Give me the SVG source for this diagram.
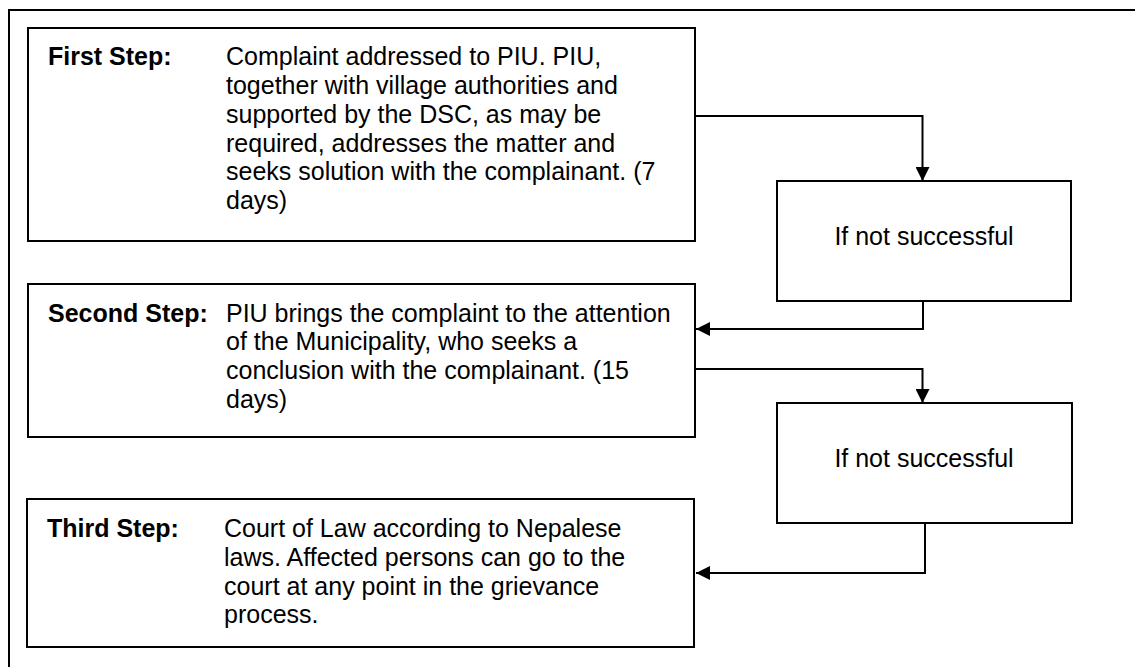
<svg xmlns="http://www.w3.org/2000/svg" width="1135" height="667" viewBox="0 0 1135 667">
<style>
.box{fill:#fff;stroke:#000;stroke-width:2}
.frame{fill:none;stroke:#000;stroke-width:2}
.t{font-family:"Liberation Sans",Arial,sans-serif;font-size:25px;fill:#000}
.b{font-weight:bold}
.c{text-anchor:middle}
.conn{fill:none;stroke:#000;stroke-width:2}
</style>
<defs>
<marker id="ah" markerWidth="14" markerHeight="14" refX="14" refY="7" orient="auto" markerUnits="userSpaceOnUse" viewBox="0 0 14 14"><path d="M0,0 L14,7 L0,14 Z" fill="#000"/></marker>
</defs>
<rect width="1135" height="667" fill="#fff"/>
<rect class="frame" x="9" y="10" width="1200" height="700"/>
<g id="step1">
<rect class="box" x="28" y="28" width="667" height="213"/>
<text class="t b" x="48" y="65">First Step:</text>
<text class="t" x="226" y="65">Complaint addressed to PIU. PIU,</text>
<text class="t" x="226" y="94">together with village authorities and</text>
<text class="t" x="226" y="123">supported by the DSC, as may be</text>
<text class="t" x="226" y="152">required, addresses the matter and</text>
<text class="t" x="226" y="180">seeks solution with the complainant. (7</text>
<text class="t" x="226" y="209">days)</text>
</g>
<g id="decision1">
<rect class="box" x="777" y="181" width="294" height="120"/>
<text class="t c" x="924" y="245">If not successful</text>
</g>
<g id="step2">
<rect class="box" x="28" y="284" width="667" height="153"/>
<text class="t b" x="48" y="322">Second Step:</text>
<text class="t" x="226" y="322">PIU brings the complaint to the attention</text>
<text class="t" x="226" y="350">of the Municipality, who seeks a</text>
<text class="t" x="226" y="379">conclusion with the complainant. (15</text>
<text class="t" x="226" y="408">days)</text>
</g>
<g id="decision2">
<rect class="box" x="777" y="403" width="295" height="120"/>
<text class="t c" x="924" y="467">If not successful</text>
</g>
<g id="step3">
<rect class="box" x="27" y="499" width="667" height="148"/>
<text class="t b" x="47" y="537">Third Step:</text>
<text class="t" x="224" y="537">Court of Law according to Nepalese</text>
<text class="t" x="224" y="566">laws. Affected persons can go to the</text>
<text class="t" x="224" y="595">court at any point in the grievance</text>
<text class="t" x="224" y="623">process.</text>
</g>
<g id="connectors">
<path class="conn" d="M695,116 H922.5 V181" marker-end="url(#ah)"/>
<path class="conn" d="M923,301 V329 H696" marker-end="url(#ah)"/>
<path class="conn" d="M695,369 H922.5 V403" marker-end="url(#ah)"/>
<path class="conn" d="M925,523 V573 H696" marker-end="url(#ah)"/>
</g>
</svg>
